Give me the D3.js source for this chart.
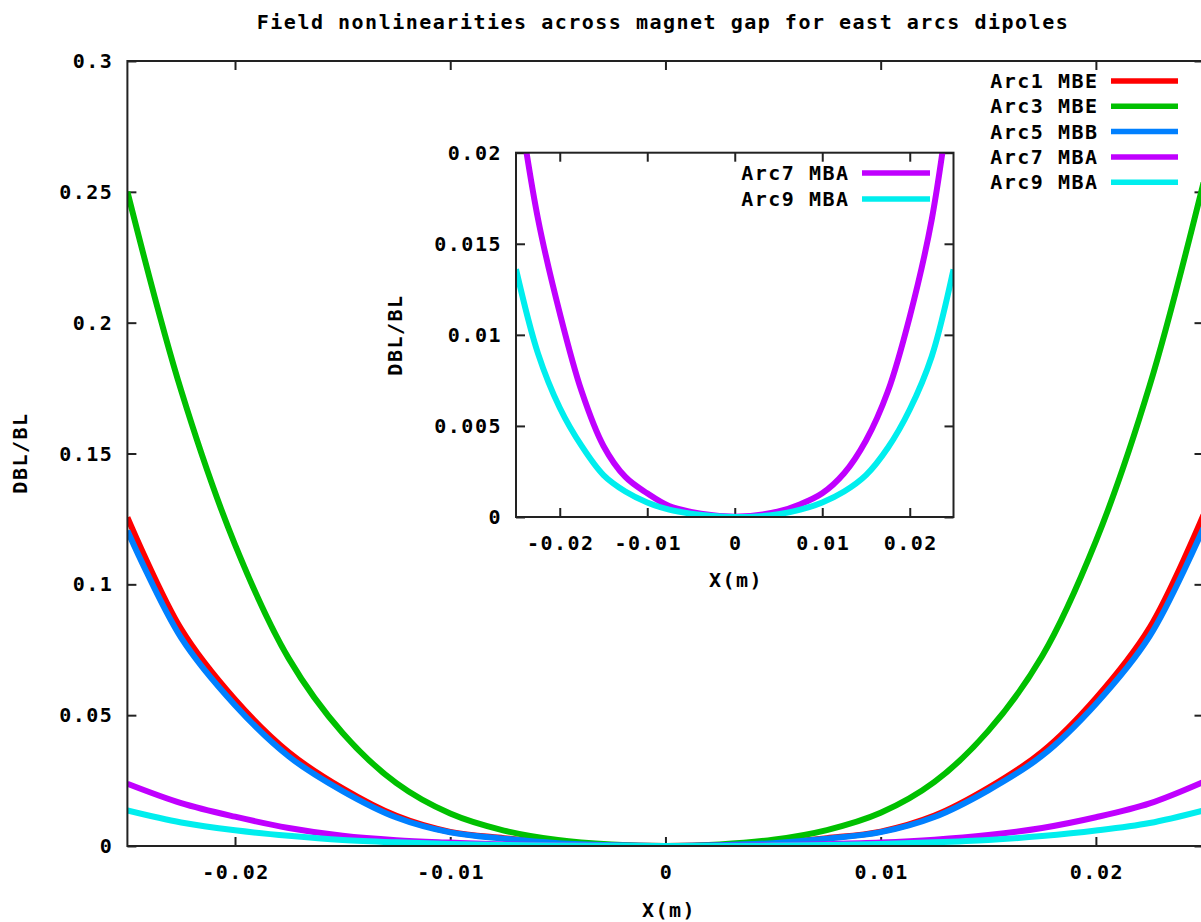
<!DOCTYPE html>
<html>
<head>
<meta charset="utf-8">
<script src="https://cdn.jsdelivr.net/npm/d3@7"></script>
<style>
  body { margin: 0; background: #fff; }
  svg text { font-family: "DejaVu Sans Mono", monospace; font-weight: bold; font-size: 20px; letter-spacing: 1.5px; fill: #000; }
  .frame { fill: none; stroke: #222; stroke-width: 2; }
  .tick line { stroke: #222; stroke-width: 2; }
  .curve { fill: none; stroke-width: 6; stroke-linejoin: round; }
</style>
</head>
<body>
<div id="chart"></div>
<script>
// field nonlinearity DBL/BL vs horizontal position
var xVals = [-0.025, -0.0225, -0.02, -0.0175, -0.015, -0.0125, -0.01, -0.0075, -0.005, -0.0025, 0,
             0.0025, 0.005, 0.0075, 0.01, 0.0125, 0.015, 0.0175, 0.02, 0.0225, 0.025];
var arc1MBE = [0.1256, 0.0829, 0.0560, 0.0358, 0.0220, 0.0115, 0.0054, 0.0030, 0.0012, 0.0003, 0,
               0.0003, 0.0012, 0.0030, 0.0055, 0.0116, 0.0222, 0.0360, 0.0565, 0.0835, 0.1265];
var arc3MBE = [0.250, 0.174, 0.1152, 0.0716, 0.0432, 0.0240, 0.0124, 0.0059, 0.0023, 0.0006, 0,
               0.0006, 0.0024, 0.0061, 0.0127, 0.0245, 0.0440, 0.0725, 0.1165, 0.1760, 0.2535];
var arc5MBB = [0.1205, 0.0795, 0.0538, 0.0342, 0.0210, 0.0109, 0.0052, 0.0028, 0.0011, 0.0003, 0,
               0.0003, 0.0011, 0.0028, 0.0053, 0.0111, 0.0213, 0.0345, 0.0543, 0.0802, 0.1215];
var arc7MBA = [0.0238, 0.0164, 0.0112, 0.0069, 0.0039, 0.0022, 0.0013, 0.0006, 0.00028, 0.0001, 0.00002,
               0.0001, 0.0003, 0.0007, 0.0013, 0.0024, 0.0042, 0.0069, 0.0110, 0.0163, 0.0245];
var arc9MBA = [0.0136, 0.0090, 0.0060, 0.0039, 0.0023, 0.0014, 0.0008, 0.0004, 0.00018, 0.00005, 0,
               0.00003, 0.00015, 0.0004, 0.0008, 0.0014, 0.0023, 0.0038, 0.0059, 0.0088, 0.0136];

var seriesNames = ["Arc1 MBE", "Arc3 MBE", "Arc5 MBB", "Arc7 MBA", "Arc9 MBA"];
var seriesColors = ["#ff0000", "#00c000", "#0080ff", "#c000ff", "#00eeee"];
var seriesData = [arc1MBE, arc3MBE, arc5MBB, arc7MBA, arc9MBA];

var xTicks = [-0.02, -0.01, 0, 0.01, 0.02];
var mainYTicks = [0, 0.05, 0.1, 0.15, 0.2, 0.25, 0.3];
var insetYTicks = [0, 0.005, 0.01, 0.015, 0.02];

var titleText = "Field nonlinearities across magnet gap for east arcs dipoles";

var svg = d3.select("#chart").append("svg")
    .attr("width", 1201)
    .attr("height", 922);

function fmt(d){ return d === 0 ? "0" : String(d); }

function drawPanel(box, yDomain, yTicks, idxList, clipId){
  var x = d3.scaleLinear().domain([-0.025, 0.025]).range([box.left, box.right]);
  var y = d3.scaleLinear().domain(yDomain).range([box.bottom, box.top]);
  var w = box.right - box.left, h = box.bottom - box.top;

  var g = svg.append("g");
  g.append("rect")
    .attr("x", box.left).attr("y", box.top)
    .attr("width", w).attr("height", h)
    .attr("fill", "#fff");

  g.append("clipPath").attr("id", clipId)
    .append("rect")
    .attr("x", box.left).attr("y", box.top)
    .attr("width", w).attr("height", h);

  // ticks on all 4 sides, pointing in
  g.append("g").attr("class", "tick").attr("transform", "translate(0," + box.bottom + ")")
    .call(d3.axisBottom(x).tickValues(xTicks).tickSize(-9).tickFormat(""));
  g.append("g").attr("class", "tick").attr("transform", "translate(0," + box.top + ")")
    .call(d3.axisTop(x).tickValues(xTicks).tickSize(-9).tickFormat(""));
  g.append("g").attr("class", "tick").attr("transform", "translate(" + box.left + ",0)")
    .call(d3.axisLeft(y).tickValues(yTicks).tickSize(-9).tickFormat(""));
  g.append("g").attr("class", "tick").attr("transform", "translate(" + box.right + ",0)")
    .call(d3.axisRight(y).tickValues(yTicks).tickSize(-9).tickFormat(""));
  g.selectAll(".domain").remove();

  // tick labels
  g.append("g").selectAll("text")
    .data(yTicks).enter().append("text")
    .attr("x", box.left - 14)
    .attr("y", function(d){ return y(d) + 7; })
    .attr("text-anchor", "end")
    .text(fmt);
  g.append("g").selectAll("text")
    .data(xTicks).enter().append("text")
    .attr("x", function(d){ return x(d) + 1; })
    .attr("y", box.bottom + 33)
    .attr("text-anchor", "middle")
    .text(fmt);

  var line = d3.line()
    .x(function(d, i){ return x(xVals[i]); })
    .y(function(d){ return y(d); })
    .curve(d3.curveCatmullRom.alpha(0.5));

  var curves = g.append("g").attr("clip-path", "url(#" + clipId + ")");
  idxList.forEach(function(k){
    curves.append("path")
      .attr("class", "curve")
      .attr("stroke", seriesColors[k])
      .attr("d", line(seriesData[k]));
  });

  g.append("rect").attr("class", "frame")
    .attr("x", box.left).attr("y", box.top)
    .attr("width", w).attr("height", h);

  return g;
}

function drawLegend(g, idxList, textRight, lineX1, lineX2, rowY, rowGap){
  idxList.forEach(function(k, i){
    var cy = rowY + i * rowGap;
    g.append("text")
      .attr("x", textRight + 1.5)
      .attr("y", cy + 7)
      .attr("text-anchor", "end")
      .text(seriesNames[k]);
    g.append("line")
      .attr("x1", lineX1).attr("x2", lineX2)
      .attr("y1", cy).attr("y2", cy)
      .attr("stroke", seriesColors[k])
      .attr("stroke-width", 5.5);
  });
}

// main plot
var mainBox = {left: 127.4, right: 1203.5, top: 61, bottom: 846};
var mainG = drawPanel(mainBox, [0, 0.3], mainYTicks, [0, 1, 2, 3, 4], "clipMain");
drawLegend(mainG, [0, 1, 2, 3, 4], 1097, 1111, 1178, 81, 25.3);

mainG.append("text")
  .attr("x", 669).attr("y", 917)
  .attr("text-anchor", "middle")
  .text("X(m)");
mainG.append("text")
  .attr("transform", "translate(27,453) rotate(-90)")
  .attr("text-anchor", "middle")
  .text("DBL/BL");

svg.append("text")
  .attr("x", 663).attr("y", 29)
  .attr("text-anchor", "middle")
  .text(titleText);

// inset, zoom on Arc7 / Arc9
var insetBox = {left: 516, right: 953.5, top: 152.7, bottom: 517};
var insetG = drawPanel(insetBox, [0, 0.02], insetYTicks, [3, 4], "clipInset");
drawLegend(insetG, [3, 4], 848, 862, 930, 173, 26);

insetG.append("text")
  .attr("x", 736).attr("y", 587)
  .attr("text-anchor", "middle")
  .text("X(m)");
insetG.append("text")
  .attr("transform", "translate(402,335) rotate(-90)")
  .attr("text-anchor", "middle")
  .text("DBL/BL");
</script>
</body>
</html>
